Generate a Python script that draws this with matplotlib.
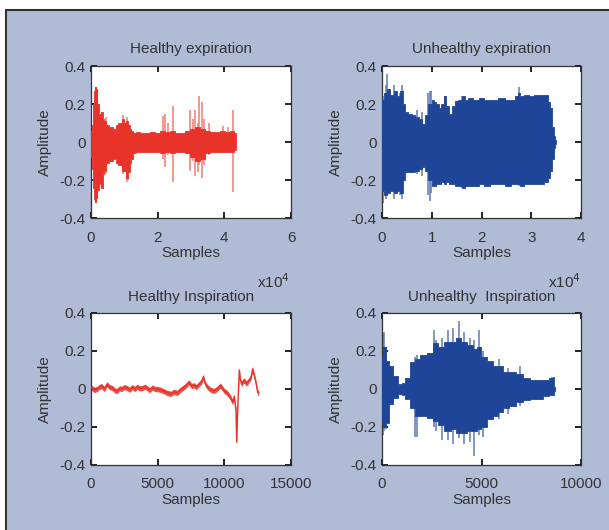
import matplotlib
matplotlib.use("Agg")
import matplotlib.pyplot as plt
from matplotlib.patches import Rectangle
import numpy as np

plt.rcParams['font.family'] = ['Liberation Sans', 'DejaVu Sans']

# ---------------- data ----------------
# Healthy expiration (x in units of 1e4 samples): envelope of the waveform
he_x  = [0.00, 0.03, 0.08, 0.12, 0.16, 0.20, 0.26, 0.32, 0.38, 0.42, 0.50, 0.58, 0.62, 0.70,
         0.78, 0.82, 0.90, 0.96, 1.02, 1.07, 1.13, 1.18, 1.22, 1.30, 1.40, 1.55, 1.70, 1.85,
         2.00, 2.15, 2.30, 2.45, 2.60, 2.75, 2.90, 3.05, 3.20, 3.35, 3.50, 3.65, 3.80, 3.95,
         4.10, 4.25, 4.35]
he_hi = [0.06, 0.09, 0.20, 0.27, 0.25, 0.20, 0.15, 0.16, 0.12, 0.11, 0.09, 0.08, 0.08, 0.07,
         0.09, 0.10, 0.10, 0.12, 0.10, 0.11, 0.09, 0.07, 0.06, 0.05, 0.055, 0.05, 0.05, 0.055,
         0.05, 0.06, 0.055, 0.06, 0.05, 0.05, 0.06, 0.07, 0.08, 0.07, 0.06, 0.055, 0.055, 0.06,
         0.055, 0.06, 0.05]
he_lo = [-0.08, -0.14, -0.24, -0.30, -0.28, -0.25, -0.22, -0.24, -0.17, -0.15, -0.11, -0.10, -0.10, -0.09,
         -0.11, -0.12, -0.12, -0.15, -0.15, -0.19, -0.16, -0.11, -0.09, -0.06, -0.055, -0.05, -0.05, -0.055,
         -0.05, -0.06, -0.055, -0.06, -0.05, -0.05, -0.06, -0.08, -0.10, -0.09, -0.06, -0.05, -0.05, -0.05,
         -0.05, -0.05, -0.04]
he_spike_x  = [0.14, 0.18, 0.45, 0.95, 1.08, 1.12, 2.17, 2.22, 2.30, 2.47, 2.98, 3.05, 3.12, 3.20, 3.24,
               3.32, 3.38, 3.55, 3.95, 4.10, 4.25]
he_spike_hi = [0.29, 0.28, 0.13, 0.14, 0.13, 0.10, 0.135, 0.145, 0.10, 0.19, 0.17, 0.12, 0.17, 0.10, 0.24,
               0.21, 0.12, 0.10, 0.085, 0.08, 0.17]
he_spike_lo = [-0.32, -0.30, -0.17, -0.17, -0.21, -0.20, -0.09, -0.13, -0.07, -0.21, -0.15, -0.10, -0.18, -0.16, -0.12,
               -0.19, -0.12, -0.07, -0.06, -0.06, -0.265]

# Unhealthy expiration (x in units of 1e4 samples)
ue_x  = [0.00, 0.02, 0.07, 0.13, 0.20, 0.27, 0.33, 0.40, 0.44, 0.47, 0.57, 0.64, 0.70, 0.77, 0.83,
         0.90, 0.96, 1.03, 1.07, 1.12, 1.17, 1.22, 1.27, 1.32, 1.37, 1.44, 1.50, 1.57, 1.63, 1.70,
         1.77, 1.90, 2.00, 2.10, 2.25, 2.40, 2.55, 2.63, 2.70, 2.75, 2.80, 2.90, 3.00, 3.10, 3.20,
         3.30, 3.37, 3.40, 3.43, 3.47, 3.50]
ue_hi = [0.05, 0.22, 0.26, 0.28, 0.25, 0.27, 0.24, 0.27, 0.20, 0.16, 0.15, 0.14, 0.13, 0.12, 0.095,
         0.14, 0.20, 0.22, 0.21, 0.20, 0.18, 0.20, 0.24, 0.19, 0.15, 0.19, 0.215, 0.22, 0.24, 0.22,
         0.23, 0.22, 0.23, 0.22, 0.22, 0.23, 0.22, 0.22, 0.24, 0.26, 0.24, 0.25, 0.24, 0.25, 0.25,
         0.25, 0.21, 0.18, 0.08, 0.03, 0.01]
ue_lo = [-0.05, -0.26, -0.28, -0.27, -0.26, -0.27, -0.26, -0.27, -0.20, -0.16, -0.16, -0.16, -0.15, -0.14, -0.13,
         -0.15, -0.20, -0.23, -0.23, -0.22, -0.22, -0.21, -0.22, -0.21, -0.22, -0.22, -0.23, -0.23, -0.24, -0.23,
         -0.23, -0.23, -0.22, -0.23, -0.22, -0.22, -0.23, -0.22, -0.22, -0.22, -0.23, -0.22, -0.22, -0.22, -0.22,
         -0.21, -0.19, -0.15, -0.09, -0.03, -0.01]
ue_spike_x  = [0.03, 0.08, 0.11, 0.25, 0.37, 0.40, 0.71, 0.80, 0.93, 0.96, 0.99, 1.27, 1.60, 2.75]
ue_spike_hi = [0.24, 0.30, 0.36, 0.30, 0.26, 0.30, 0.17, 0.16, 0.26, 0.27, 0.27, 0.24, 0.24, 0.29]
ue_spike_lo = [-0.32, -0.30, -0.28, -0.30, -0.28, -0.30, -0.17, -0.18, -0.28, -0.31, -0.27, -0.22, -0.24, -0.23]

# Healthy inspiration: signal trace (samples, amplitude)
hi_x = [0, 250, 450, 650, 800, 1000, 1200, 1400, 1600, 1800, 1960, 2150, 2300, 2500, 2710, 2900,
        3100, 3300, 3460, 3650, 3850, 4050, 4220, 4400, 4600, 4800, 4970, 5200, 5470, 5700,
        5970, 6200, 6480, 6700, 6980, 7150, 7350, 7550, 7730, 7900, 8110, 8300, 8430, 8550,
        8730, 9000, 9240, 9450, 9690, 9850, 9990, 10200, 10370, 10500, 10620, 10740,
        10870, 10930, 10990, 11120, 11200, 11300, 11400, 11500, 11620, 11750, 11880, 12000,
        12120, 12250, 12380, 12500, 12580]
hi_y = [0.01, -0.005, 0.0, 0.012, 0.015, 0.0, 0.025, 0.01, 0.005, -0.008, -0.01, 0.004, 0.0, 0.01, 0.005, -0.004,
        0.01, 0.0, 0.012, 0.004, 0.005, 0.012, 0.004, -0.006, 0.008, 0.0, 0.0, -0.004, -0.012, -0.02,
        -0.026, -0.015, -0.02, -0.005, 0.01, 0.02, 0.035, 0.015, 0.02, 0.01, 0.026, 0.04, 0.065, 0.03,
        0.01, -0.005, -0.01, 0.0, 0.018, 0.005, -0.01, -0.02, -0.035, -0.05, -0.07, -0.04,
        -0.11, -0.28, -0.13, 0.10, 0.05, 0.026, 0.04, 0.045, 0.03, 0.035, 0.05, 0.06,
        0.105, 0.07, 0.03, -0.018, -0.02]
hi_noise = 0.014  # half-thickness of the noisy trace

# Unhealthy inspiration: envelope (samples)
ui_x  = [0, 30, 120, 250, 420, 670, 920, 1100, 1250, 1590, 1760, 2090, 2420, 2680, 2930, 3340,
         3600, 3850, 4100, 4430, 4680, 4850, 5100, 5430, 5690, 5940, 6270, 6520, 6940, 7270,
         7610, 7940, 8280, 8530, 8610, 8700]
ui_hi = [0.05, 0.17, 0.22, 0.15, 0.12, 0.07, 0.026, 0.03, 0.06, 0.14, 0.16, 0.18, 0.19, 0.24, 0.22, 0.25,
         0.25, 0.27, 0.25, 0.23, 0.21, 0.22, 0.17, 0.15, 0.12, 0.12, 0.09, 0.09, 0.08, 0.06,
         0.045, 0.05, 0.045, 0.06, 0.065, 0.01]
ui_lo = [-0.05, -0.17, -0.20, -0.18, -0.08, -0.045, -0.026, -0.03, -0.05, -0.10, -0.14, -0.14, -0.15, -0.17, -0.19, -0.22,
         -0.21, -0.23, -0.23, -0.22, -0.22, -0.21, -0.20, -0.16, -0.14, -0.12, -0.10, -0.09, -0.07, -0.06,
         -0.055, -0.05, -0.035, -0.03, -0.03, -0.01]
ui_spike_x  = [60, 120, 200, 1650, 1760, 2600, 2700, 3000, 3340, 3560, 3850, 4100, 4430, 4630, 4850,
               5100, 5900, 6350, 6950, 8550]
ui_spike_hi = [0.29, 0.30, 0.22, 0.17, 0.18, 0.31, 0.26, 0.27, 0.31, 0.32, 0.36, 0.30, 0.27, 0.26, 0.31,
               0.20, 0.16, 0.11, 0.12, 0.065]
ui_spike_lo = [-0.24, -0.22, -0.21, -0.25, -0.25, -0.20, -0.22, -0.27, -0.27, -0.29, -0.26, -0.29, -0.28, -0.35, -0.24,
               -0.25, -0.16, -0.13, -0.09, -0.03]

titles = ["Healthy expiration", "Unhealthy expiration", "Healthy Inspiration", "Unhealthy  Inspiration"]
xlims = [(0, 6), (0, 4), (0, 15000), (0, 10000)]
xticks = [[0, 2, 4, 6], [0, 1, 2, 3, 4], [0, 5000, 10000, 15000], [0, 5000, 10000]]
yticks = [-0.4, -0.2, 0, 0.2, 0.4]
ytick_labels = ["-0.4", "-0.2", "0", "0.2", "0.4"]

RED = "#e8332a"
RED_L = "#ee7d72"
BLUE = "#1f4599"
BLUE_L = "#5f78b6"
BG = "#b0bbd6"
TXT = "#333333"
FS = 11

W, H = 609, 530
fig = plt.figure(figsize=(W / 100, H / 100), dpi=100, facecolor="white")

# background panel with border
fig.patches.append(Rectangle((6 / W, -0.05), 1.1, 1 - 10 / H + 0.05, transform=fig.transFigure,
                             facecolor=BG, edgecolor="#333333", linewidth=1.5, zorder=-10))

def px_axes(left, right, top, bottom):
    return fig.add_axes([left / W, 1 - bottom / H, (right - left) / W, (bottom - top) / H])

boxes = [(91, 291, 66, 218), (382, 581, 66, 218), (91, 291, 313, 465), (382, 581, 313, 465)]
axes = [px_axes(*b) for b in boxes]

def style(ax, i):
    ax.set_facecolor("white")
    ax.set_xlim(*xlims[i])
    ax.set_ylim(-0.4, 0.4)
    ax.set_xticks(xticks[i])
    ax.set_xticklabels([str(t) for t in xticks[i]])
    ax.set_yticks(yticks)
    ax.set_yticklabels(ytick_labels)
    ax.tick_params(direction="in", length=4, width=1.3, colors="#111111", top=True, right=True,
                   labelsize=FS, labelcolor=TXT)
    ax.tick_params(axis="x", pad=9)
    ax.tick_params(axis="y", pad=4)
    for s in ax.spines.values():
        s.set_color("#333333")
        s.set_linewidth(0.9)
    ax.set_title(titles[i], fontsize=FS, color=TXT, pad=9)
    ax.set_xlabel("Samples", fontsize=FS, color=TXT, labelpad=1)
    ax.set_ylabel("Amplitude", fontsize=FS, color=TXT, labelpad=5)

# Healthy expiration
ax = axes[0]
ax.vlines(he_spike_x, he_spike_lo, he_spike_hi, color=RED_L, lw=1.1, zorder=2)
ax.fill_between(he_x, he_lo, he_hi, step="mid", color=RED, lw=0.6, edgecolor=RED, zorder=3)
ax.vlines(he_spike_x[:2], he_spike_lo[:2], he_spike_hi[:2], color=RED, lw=1.4, zorder=3)
style(ax, 0)

# Unhealthy expiration
ax = axes[1]
ax.vlines(ue_spike_x, ue_spike_lo, ue_spike_hi, color=BLUE_L, lw=1.1, zorder=2)
ax.fill_between(ue_x, ue_lo, ue_hi, step="mid", color=BLUE, lw=0.6, edgecolor=BLUE, zorder=3)
style(ax, 1)

# Healthy inspiration
ax = axes[2]
hy = np.array(hi_y)
ax.fill_between(hi_x, hy - hi_noise, hy + hi_noise, color=RED, lw=0, alpha=0.85, zorder=2)
ax.plot(hi_x, hi_y, color=RED, lw=1.0, zorder=3)
style(ax, 2)

# Unhealthy inspiration
ax = axes[3]
ax.vlines(ui_spike_x, ui_spike_lo, ui_spike_hi, color=BLUE_L, lw=1.1, zorder=2)
ax.fill_between(ui_x, ui_lo, ui_hi, step="mid", color=BLUE, lw=0.6, edgecolor=BLUE, zorder=3)
style(ax, 3)

# x10^4 exponent labels of the upper panels
fig.text(290 / W, 1 - 282 / H, r"x10$^{4}$", ha="right", va="center", fontsize=FS, color=TXT)
fig.text(581 / W, 1 - 282 / H, r"x10$^{4}$", ha="right", va="center", fontsize=FS, color=TXT)

fig.savefig("out.png", dpi=100, facecolor="white")
